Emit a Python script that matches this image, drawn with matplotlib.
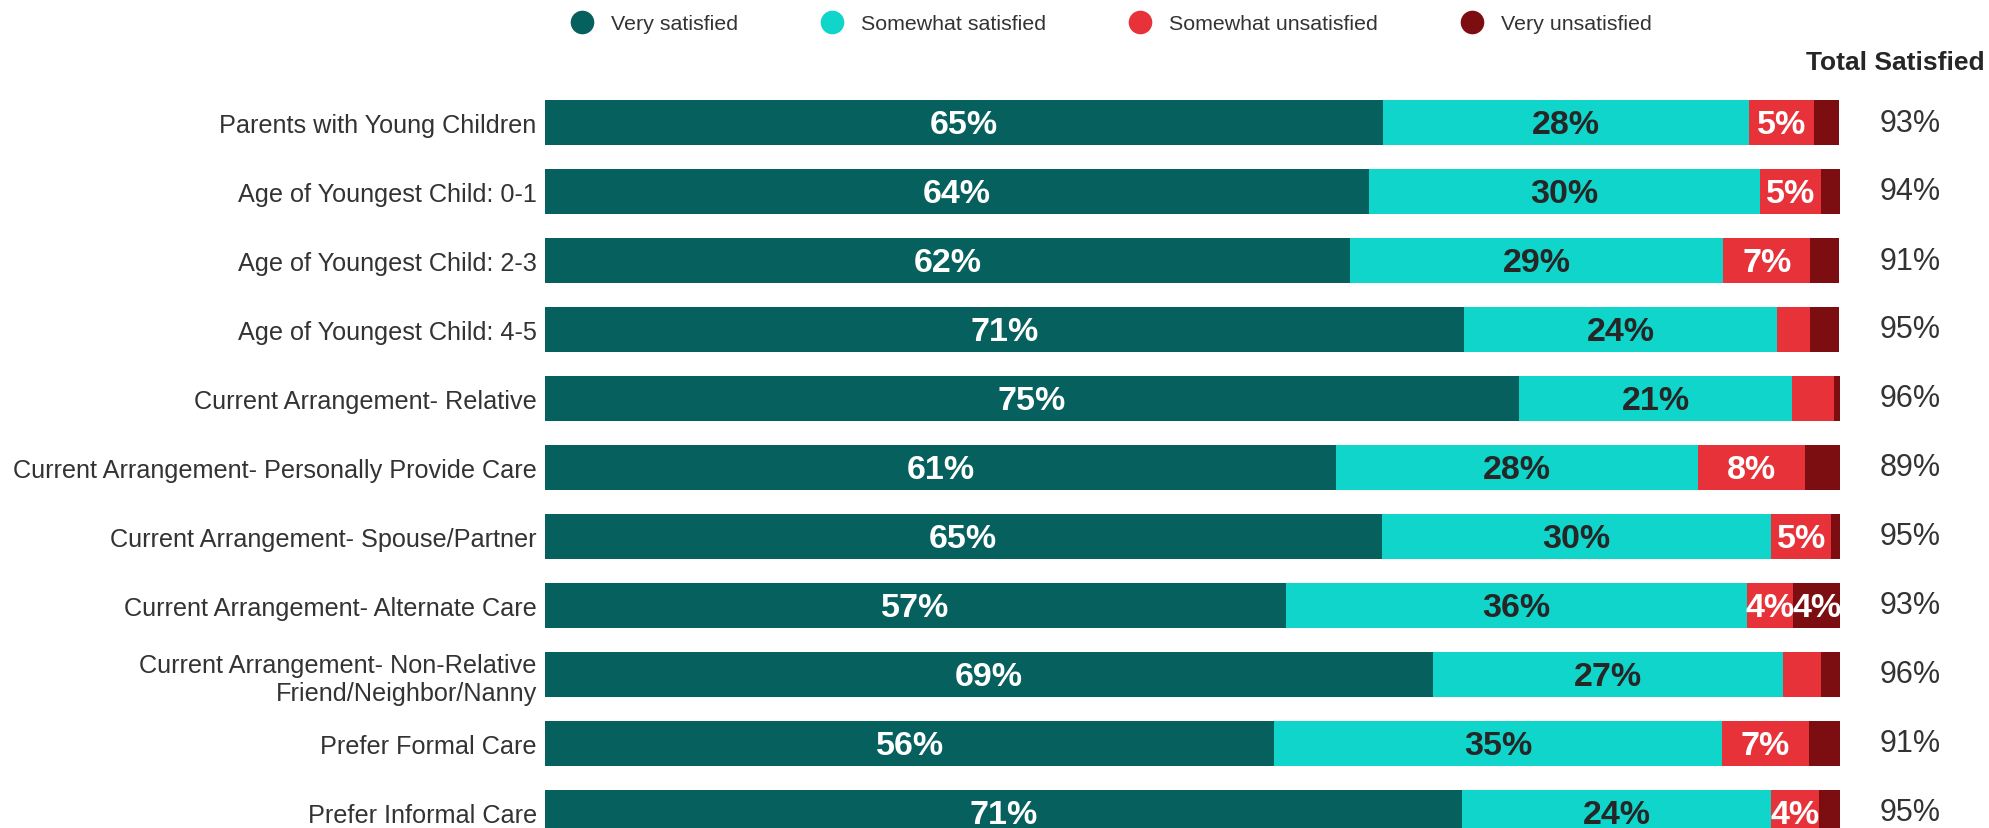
import numpy as np
import matplotlib
matplotlib.use("Agg")
import matplotlib.pyplot as plt
from matplotlib.lines import Line2D

plt.rcParams["font.family"] = ["Liberation Sans", "DejaVu Sans"]

categories = [
    "Parents with Young Children",
    "Age of Youngest Child: 0-1",
    "Age of Youngest Child: 2-3",
    "Age of Youngest Child: 4-5",
    "Current Arrangement- Relative",
    "Current Arrangement- Personally Provide Care",
    "Current Arrangement- Spouse/Partner",
    "Current Arrangement- Alternate Care",
    "Current Arrangement- Non-Relative\nFriend/Neighbor/Nanny",
    "Prefer Formal Care",
    "Prefer Informal Care",
]
very_satisfied = [64.7, 63.6, 62.2, 71.0, 75.2, 61.1, 64.6, 57.2, 68.6, 56.3, 70.8]
somewhat_satisfied = [28.3, 30.2, 28.8, 24.1, 21.1, 27.9, 30.1, 35.6, 27.0, 34.6, 23.9]
somewhat_unsatisfied = [5.0, 4.7, 6.7, 2.6, 3.2, 8.3, 4.6, 3.6, 2.9, 6.7, 3.7]
very_unsatisfied = [1.9, 1.5, 2.2, 2.2, 0.5, 2.7, 0.7, 3.6, 1.5, 2.4, 1.6]

series = [
    ("Very satisfied", very_satisfied, "#06605e", "white"),
    ("Somewhat satisfied", somewhat_satisfied, "#0fd5cb", "#262626"),
    ("Somewhat unsatisfied", somewhat_unsatisfied, "#e8323a", "white"),
    ("Very unsatisfied", very_unsatisfied, "#7c0d10", "white"),
]

W, H = 1989, 829
fig = plt.figure(figsize=(W / 100, H / 100), dpi=100)
# axes spans full height; data rows spaced 69 px, first centre at 123.5 px
ax = fig.add_axes([545 / W, 0, 1295 / W, 1])
ax.set_xlim(0, 100)
ax.set_ylim((H - 123.5) / 69, -123.5 / 69)

y = np.arange(len(categories))
left = np.zeros(len(categories))
for name, vals, color, tcolor in series:
    vals = np.array(vals)
    ax.barh(y, vals, left=left, height=0.65, color=color, edgecolor="none")
    for yi, l, v in zip(y, left, vals):
        if round(v) >= 4:
            ax.text(l + v / 2, yi + 0.03, f"{round(v)}%", ha="center", va="center",
                    color=tcolor, fontsize=24.5, fontweight="bold")
    left += vals

total = np.array(very_satisfied) + np.array(somewhat_satisfied)
for yi, t in zip(y, total):
    ax.text(105.4, yi, f"{round(t)}%", ha="center", va="center",
            color="#333333", fontsize=22, clip_on=False)
ax.text(111.2, -0.87, "Total Satisfied", ha="right", va="center",
        color="#262626", fontsize=19, fontweight="bold", clip_on=False)

ax.set_yticks(y)
ax.set_yticklabels(categories, fontsize=18.2, color="#333333")
ax.tick_params(axis="y", length=0, pad=6)
ax.set_xticks([])
for s in ax.spines.values():
    s.set_visible(False)

handles = [Line2D([], [], marker="o", linestyle="none", markersize=17,
                  markerfacecolor=c, markeredgecolor="none", label=n)
           for n, _, c, _ in series]
fig.legend(handles=handles, loc="center left", bbox_to_anchor=(550 / W, 1 - 25 / H),
           ncol=4, frameon=False, fontsize=15.4, labelcolor="#333333",
           columnspacing=3.8, handletextpad=0.75, handlelength=1.2)

fig.savefig("out.png", dpi=100)
